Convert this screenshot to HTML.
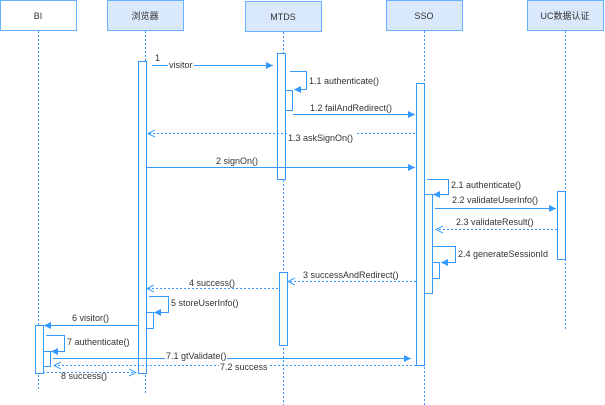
<!DOCTYPE html>
<html><head><meta charset="utf-8"><style>
html,body{margin:0;padding:0;background:#fff;}
svg{display:block;}
text{font-family:"Liberation Sans","Noto Sans CJK SC",sans-serif;font-size:9px;fill:#333;}
</style></head><body>
<svg width="605" height="405" viewBox="0 0 605 405" xmlns="http://www.w3.org/2000/svg">
<defs>
<marker id="a" markerWidth="8" markerHeight="8" refX="7" refY="4" orient="auto" markerUnits="userSpaceOnUse"><path d="M0,0.5 L7,4 L0,7.5 Z" fill="#3399ff"/></marker>
<marker id="o" markerWidth="8" markerHeight="8" refX="7" refY="4" orient="auto" markerUnits="userSpaceOnUse"><path d="M0,0.5 L7,4 L0,7.5" fill="none" stroke="#3399ff" stroke-width="1"/></marker>
</defs>
<g stroke="#66b2ff" stroke-width="1">
<rect x="0.5" y="0.5" width="76" height="30" fill="#fff"/>
<rect x="107.5" y="0.5" width="76" height="30" fill="#dae8fc"/>
<rect x="245.5" y="1.5" width="76" height="30" fill="#dae8fc"/>
<rect x="386.5" y="0.5" width="76" height="30" fill="#dae8fc"/>
<rect x="527.5" y="0.5" width="76" height="30" fill="#dae8fc"/>
</g>
<text x="38" y="19" text-anchor="middle">BI</text>
<text x="145" y="19" text-anchor="middle">浏览器</text>
<text x="283" y="20" text-anchor="middle">MTDS</text>
<text x="424" y="19" text-anchor="middle">SSO</text>
<text x="565" y="19" text-anchor="middle">UC数据认证</text>
<g stroke="#3399ff" stroke-width="1" stroke-dasharray="2,2" fill="none">
<line x1="38.5" y1="31" x2="38.5" y2="390"/>
<line x1="145.5" y1="31" x2="145.5" y2="395"/>
<line x1="283.5" y1="32" x2="283.5" y2="405"/>
<line x1="424.5" y1="31" x2="424.5" y2="405"/>
<line x1="565.5" y1="31" x2="565.5" y2="330"/>
</g>
<g stroke="#3399ff" stroke-width="1" fill="#fff">
<rect x="138.5" y="61.5" width="8" height="312"/>
<rect x="277.5" y="53.5" width="8" height="126"/>
<rect x="285.5" y="90.5" width="7" height="20"/>
<rect x="279.5" y="272.5" width="8" height="73"/>
<rect x="416.5" y="83.5" width="8" height="282"/>
<rect x="424.5" y="194.5" width="8" height="99"/>
<rect x="432.5" y="262.5" width="7" height="16"/>
<rect x="557.5" y="191.5" width="8" height="68"/>
<rect x="146.5" y="312.5" width="7" height="16"/>
<rect x="35.5" y="325.5" width="8" height="48"/>
<rect x="43.5" y="351.5" width="7" height="15"/>
</g>
<g stroke="#3399ff" stroke-width="1" fill="none">
<line x1="152" y1="65.5" x2="273" y2="65.5" marker-end="url(#a)"/>
<polyline points="290,71.5 306.5,71.5 306.5,89.5 294,89.5" marker-end="url(#a)"/>
<line x1="293" y1="114.5" x2="415" y2="114.5" marker-end="url(#a)"/>
<line x1="415" y1="133.5" x2="148" y2="133.5" stroke-dasharray="2,2" marker-end="url(#o)"/>
<line x1="147" y1="167.5" x2="415" y2="167.5" marker-end="url(#a)"/>
<polyline points="427,179.5 448.5,179.5 448.5,194.5 433,194.5" marker-end="url(#a)"/>
<line x1="435" y1="208.5" x2="556" y2="208.5" marker-end="url(#a)"/>
<line x1="557" y1="229.5" x2="436" y2="229.5" stroke-dasharray="2,2" marker-end="url(#o)"/>
<polyline points="433,246.5 455.5,246.5 455.5,262.5 441,262.5" marker-end="url(#a)"/>
<line x1="416" y1="281.5" x2="288" y2="281.5" stroke-dasharray="2,2" marker-end="url(#o)"/>
<line x1="278" y1="288.5" x2="147" y2="288.5" stroke-dasharray="2,2" marker-end="url(#o)"/>
<polyline points="149,296.5 168.5,296.5 168.5,312.5 154,312.5" marker-end="url(#a)"/>
<line x1="138" y1="325.5" x2="44" y2="325.5" marker-end="url(#a)"/>
<polyline points="46,335.5 64.5,335.5 64.5,351.5 51,351.5" marker-end="url(#a)"/>
<line x1="53" y1="358.5" x2="411" y2="358.5" marker-end="url(#a)"/>
<line x1="416" y1="365.5" x2="54" y2="365.5" stroke-dasharray="2,2" marker-end="url(#o)"/>
<line x1="43" y1="372.5" x2="136" y2="372.5" stroke-dasharray="2,2" marker-end="url(#o)"/>
</g>
<g>
<rect x="168" y="59" width="26" height="10" fill="#fff"/>
<rect x="287" y="133" width="68" height="10" fill="#fff"/>
<rect x="165" y="351" width="62" height="9" fill="#fff"/>
<rect x="219" y="362" width="50" height="9" fill="#fff"/>
</g>
<text x="155" y="61">1</text>
<text x="169" y="68">visitor</text>
<text x="309" y="84">1.1 authenticate()</text>
<text x="310" y="111">1.2 failAndRedirect()</text>
<text x="288" y="141">1.3 askSignOn()</text>
<text x="216" y="164">2 signOn()</text>
<text x="451" y="188">2.1 authenticate()</text>
<text x="452" y="203">2.2 validateUserInfo()</text>
<text x="456" y="225">2.3 validateResult()</text>
<text x="458" y="257">2.4 generateSessionId</text>
<text x="303" y="278">3 successAndRedirect()</text>
<text x="189" y="286">4 success()</text>
<text x="171" y="306">5 storeUserInfo()</text>
<text x="72" y="321">6 visitor()</text>
<text x="67" y="345">7 authenticate()</text>
<text x="166" y="359">7.1 gtValidate()</text>
<text x="220" y="370">7.2 success</text>
<text x="61" y="379">8 success()</text>
</svg>
</body></html>
